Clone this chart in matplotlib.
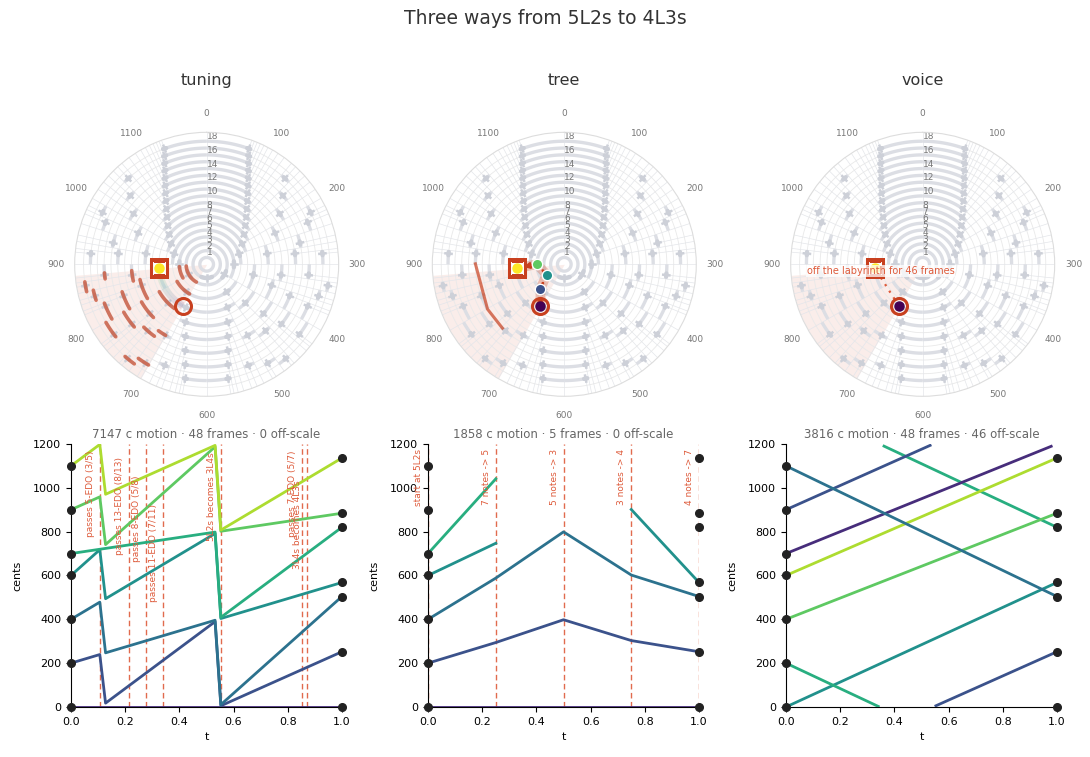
from math import gcd

import matplotlib
matplotlib.use("Agg")
import matplotlib.pyplot as plt
import numpy as np

plt.rcParams["font.family"] = ["DejaVu Sans"]

RED = "#c8401f"
ANN = "#de5b3b"
GREY = "#777777"

suptitle = "Three ways from 5L2s to 4L3s"
panel_names = ["tuning", "tree", "voice"]
subtitles = ["7147 c motion · 48 frames · 0 off-scale",
             "1858 c motion · 5 frames · 0 off-scale",
             "3816 c motion · 48 frames · 46 off-scale"]

# generators (cents) and scale size of start / end
start_gen, end_gen = 700, 884
scale_size = 7
max_edo = 18
wedge = (700, 884)
start_notes = [0, 200, 400, 600, 700, 900, 1100]
end_notes = [0, 252, 504, 568, 820, 884, 1136]

# tree walk: generator and number of notes at each node
tree_gen = [700, 747, 799, 901, 884]
tree_size = [7, 5, 3, 4, 7]
echo_gen = [901, 799, 747]
echo_r = 13

# bottom left: sorted scale degrees at the break frames
tuning_t = [0, 0.1064, 0.1277, 0.5319, 0.5532, 1.0]
tuning_deg = [
    [0, 0, 0, 0, 0, 0],
    [200, 239.2, 17.5, 389.4, 5.4, 252],
    [400, 478.3, 247.0, 395.7, 10.7, 504],
    [600, 717.5, 494.0, 791.5, 403.6, 568],
    [700, 719.6, 723.5, 797.9, 408.9, 820],
    [900, 958.7, 740.9, 1187.2, 801.8, 884],
    [1100, 1197.9, 970.5, 1193.6, 807.2, 1136],
]
tuning_events = [0.106, 0.213, 0.277, 0.340, 0.553, 0.851, 0.872]
tuning_labels = ["passes 5-EDO (3/5)", "passes 13-EDO (8/13)", "passes 8-EDO (5/8)",
                 "passes 11-EDO (7/11)", "5L2s becomes 3L4s", "passes 7-EDO (5/7)",
                 "3L4s becomes 4L3s"]
tuning_label_top = [0.975, 0.95, 0.88, 0.77, 0.968, 0.975, 0.86]

# bottom middle: (degree, t, cents)
tree_t = [0, 0.25, 0.5, 0.75, 1.0]
tree_lines = [
    (0, [0, 0.25, 0.5, 0.75, 1.0], [0, 0, 0, 0, 0]),
    (1, [0, 0.25, 0.5, 0.75, 1.0], [200, 294, 398, 303, 252]),
    (2, [0, 0.25, 0.5, 0.75, 1.0], [400, 588, 799, 602, 504]),
    (3, [0, 0.25], [600, 747]),
    (3, [0.75, 1.0], [901, 568]),
    (4, [0, 0.25], [700, 1041]),
]
tree_labels = ["start at 5L2s", "7 notes -> 5", "5 notes -> 3", "3 notes -> 4", "4 notes -> 7"]

# bottom right: voices, coloured by the degree they land on
voice_lines = [
    (3, [0, 1.0], [0, 568]),
    (4, [0, 0.3404], [200, 2.6]),
    (4, [0.3617, 1.0], [1190.2, 820]),
    (5, [0, 1.0], [400, 884]),
    (6, [0, 1.0], [600, 1136]),
    (0, [0, 0.9787], [700, 1189.4]),
    (1, [0, 0.5319], [900, 1193.6]),
    (1, [0.5532, 1.0], [5.4, 252]),
    (2, [0, 1.0], [1100, 504]),
]

RMAX = 19.3
cmap = plt.get_cmap("viridis")


def th(c):
    return np.asarray(c, dtype=float) / 1200 * 2 * np.pi


def arc(ax, c0, c1, r, **kw):
    t = np.linspace(c0, c1, int(abs(c1 - c0) / 2) + 2)
    ax.plot(th(t), np.full_like(t, r, dtype=float), **kw)


def farey_arcs():
    out = [(0, 1, 0.0, 1200.0)]
    for q in range(2, max_edo + 1):
        for p in range(1, q):
            if gcd(p, q) != 1:
                continue
            b = pow(p, -1, q)
            a = (p * b - 1) // q
            d, c = q - b, p - a
            out.append((p, q, 1200 * a / b, 1200 * c / d))
    return out


def labyrinth(ax, highlight):
    ax.set_theta_zero_location("N")
    ax.set_theta_direction(-1)
    ax.set_ylim(0, RMAX)
    ax.fill_between(th(np.linspace(*wedge, 120)), 0, RMAX, color="#e8a898",
                    alpha=0.2, lw=0, zorder=0.5)
    for r in range(1, 19):
        arc(ax, 0, 1200, r, color="#e9e9e9", lw=0.6, zorder=0.6)
    for p, q, lo, hi in farey_arcs():
        ang = 1200 * p / q
        ax.plot(th([ang, ang]), [q, RMAX], color="#e4e6ea", lw=0.5, zorder=0.8)
        arc(ax, lo, hi, q, color="#dcdee4", lw=2.4, solid_capstyle="butt", zorder=1)
        if q > 1:
            ax.plot(th([ang, ang]), [q - 0.45, q + 0.45], color="#cdd0d8", lw=1.8, zorder=1.1)
            arc(ax, ang - 300 / q / q - 1.5, ang + 300 / q / q + 1.5, q, color="#cdd0d8",
                lw=3.2, solid_capstyle="round", zorder=1.1)
        if highlight and q >= 3 and q != scale_size:
            a, b = max(lo, wedge[0]), min(hi, wedge[1])
            if b > a:
                arc(ax, a, b, q, color=RED, alpha=0.68, lw=2.6,
                    solid_capstyle="round", zorder=2)
    ax.set_xticks(th(np.arange(0, 1200, 100)))
    ax.set_xticklabels([str(v) for v in range(0, 1200, 100)], fontsize=6.5, color=GREY)
    ax.tick_params(axis="x", pad=3)
    ax.set_yticks(range(1, 19))
    ax.set_yticklabels([str(v) if (v <= 8 or v % 2 == 0) else "" for v in range(1, 19)],
                       fontsize=6.5, color=GREY)
    ax.set_rlabel_position(0)
    ax.grid(False)
    ax.spines["polar"].set_color("#dddddd")


def end_markers(ax, start_dot=True):
    ax.plot(th(start_gen), scale_size, "o", ms=11.5, mfc="none", mec=RED, mew=2.2, zorder=6)
    ax.plot(th(end_gen), scale_size, "s", ms=11.5, mfc="white", mec=RED, mew=2.2, zorder=6)
    ax.plot(th(end_gen), scale_size, "o", ms=6.5, color=cmap(1.0), zorder=7)
    if start_dot:
        ax.plot(th(start_gen), scale_size, "o", ms=6.5, color=cmap(0.0), zorder=7)


fig = plt.figure(figsize=(10.9, 7.57), dpi=100)
fig.text(0.5, 0.975, suptitle, ha="center", va="center", fontsize=13.5, color="#333333")

polar_left = [0.0685, 0.3966, 0.7254]
bottom_left = [0.0651, 0.3927, 0.7211]
polar_axes = []
for i, name in enumerate(panel_names):
    ax = fig.add_axes([polar_left[i], 0.4765, 0.2422, 0.3487], projection="polar")
    labyrinth(ax, highlight=(i == 0))
    ax.text(0.5, 1.198, name, transform=ax.transAxes, ha="center", va="center",
            fontsize=11.5, color="#333333")
    polar_axes.append(ax)

# tuning: faint trail of the sweep along the 7-note ring
ax = polar_axes[0]
trail = np.linspace(wedge[0], wedge[1], 40)
for k in range(len(trail) - 1):
    ax.plot(th(trail[k:k + 2]), [scale_size, scale_size], color=cmap(k / 39),
            alpha=0.13, lw=5, solid_capstyle="butt", zorder=2.5)
end_markers(ax, start_dot=False)

# tree: walk through the nodes
ax = polar_axes[1]
ax.plot(th(echo_gen), [echo_r] * len(echo_gen), color=RED, alpha=0.7, lw=2.2, zorder=3)
ax.plot(th(tree_gen), tree_size, color=RED, alpha=0.28, lw=7, solid_capstyle="round", zorder=3)
for k in range(len(tree_gen) - 1):
    ax.annotate("", xy=(th(tree_gen[k + 1]), tree_size[k + 1]),
                xytext=(th(tree_gen[k]), tree_size[k]),
                arrowprops=dict(arrowstyle="-|>", color=RED, lw=1.8, mutation_scale=8,
                                shrinkA=4, shrinkB=5), zorder=4)
end_markers(ax)
for k in range(1, len(tree_gen) - 1):
    ax.plot(th(tree_gen[k]), tree_size[k], "o", ms=7.5, color=cmap(k / 4),
            mec="white", mew=1, zorder=7)

# voice: straight jump, off the labyrinth
ax = polar_axes[2]
ax.plot(th([start_gen, end_gen]), [scale_size, scale_size], color=ANN, lw=1.6,
        ls=(0, (1, 2.5)), zorder=3)
end_markers(ax)
ax.annotate("off the labyrinth for 46 frames", xy=(th(end_gen), scale_size),
            xytext=(4, 1.5), textcoords="offset points", ha="center", va="top",
            fontsize=7, color=ANN, zorder=8,
            bbox=dict(boxstyle="square,pad=0.1", fc="white", ec="none", alpha=0.75))


def bottom(ax, title):
    ax.set_xlim(0, 1)
    ax.set_ylim(0, 1200)
    ax.set_xticks(np.arange(0, 1.01, 0.2))
    ax.set_yticks(range(0, 1201, 200))
    ax.tick_params(labelsize=8)
    ax.set_xlabel("t", fontsize=8)
    ax.set_ylabel("cents", fontsize=8, labelpad=8)
    ax.set_title(title, fontsize=8.5, color="#666666", pad=4)
    for s in ("top", "right"):
        ax.spines[s].set_visible(False)
    ax.plot([0] * len(start_notes), start_notes, "o", color="#222222", ms=5.5,
            clip_on=False, zorder=6)
    ax.plot([1] * len(end_notes), end_notes, "o", color="#222222", ms=5.5,
            clip_on=False, zorder=6)


def events(ax, ts, labels, tops):
    for t, lbl, top in zip(ts, labels, tops):
        ax.axvline(t, color=ANN, lw=1, ls=(0, (4, 2.5)), alpha=0.9, zorder=1)
        ax.annotate(lbl, xy=(t, top), xycoords=("data", "axes fraction"),
                    xytext=(-3.5, 0), textcoords="offset points", rotation=90,
                    ha="right", va="top", fontsize=6.5, color=ANN, annotation_clip=False)


axes_b = [fig.add_axes([bottom_left[i], 0.0661, 0.2486, 0.3474]) for i in range(3)]

ax = axes_b[0]
for d, ys in enumerate(tuning_deg):
    ax.plot(tuning_t, ys, color=cmap((d + 1) / 8), lw=2, zorder=3)
events(ax, tuning_events, tuning_labels, tuning_label_top)
bottom(ax, subtitles[0])

ax = axes_b[1]
for d, ts, ys in tree_lines:
    ax.plot(ts, ys, color=cmap((d + 1) / 8), lw=2, zorder=3)
events(ax, tree_t, tree_labels, [0.98] * len(tree_t))
bottom(ax, subtitles[1])

ax = axes_b[2]
for d, ts, ys in voice_lines:
    ax.plot(ts, ys, color=cmap((d + 1) / 8), lw=2, zorder=3)
bottom(ax, subtitles[2])

fig.savefig("out.png", dpi=100)
